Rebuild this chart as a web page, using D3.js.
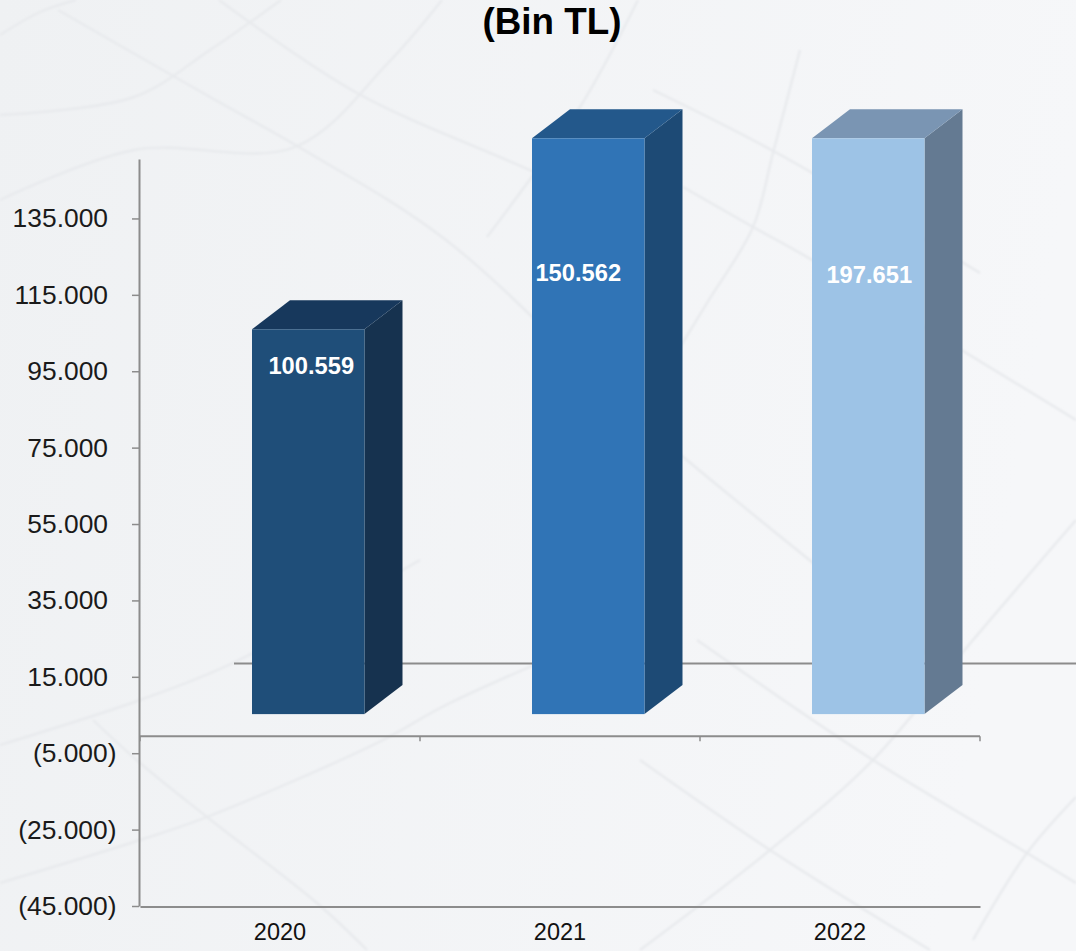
<!DOCTYPE html>
<html>
<head>
<meta charset="utf-8">
<title>Bin TL</title>
<script src="https://cdn.jsdelivr.net/npm/d3@7"></script>
<style>
    html, body { margin: 0; padding: 0; background: #f3f4f6; }
    svg { display: block; }
    text { font-family: "Liberation Sans", Arial, sans-serif; }
</style>
</head>
<body>
<div id="chart"></div>
<script>
//Data
const years = ['2020', '2021', '2022'];
const values = [100559, 150562, 197651];
const axisTicks = [135000, 115000, 95000, 75000, 55000, 35000, 15000, -5000, -25000, -45000];
const axisMin = -45000;
const axisMax = 150562;
const titleText = '(Bin TL)';

//Colors for each bar: front, side, top
const frontColors = ['#1f4e79', '#3074b6', '#9dc3e6'];
const sideColors = ['#16324f', '#1d4a75', '#647a92'];
const topColors = ['#17385c', '#23588b', '#7a95b3'];

//Label nudges, the labels are hand placed in the original
const labelDx = [3, -10, 1];
const labelDy = [36.5, 134, 136.5];

//Faint lines of the background picture
const bgStrokes = [
    [[0, 35], [40, 12], [76, 0]],
    [[0, 115], [134, 97], [210, 50], [281, 0]],
    [[0, 200], [134, 150], [295, 147], [388, 63], [442, 0]],
    [[487, 237], [580, 107], [638, 0]],
    [[58, 10], [210, 97], [304, 150], [446, 240], [640, 420], [760, 520], [960, 680]],
    [[219, 0], [357, 93], [536, 173], [653, 230]],
    [[653, 90], [777, 153], [980, 273]],
    [[683, 187], [753, 227], [807, 257], [1076, 420]],
    [[0, 745], [140, 700], [233, 663], [420, 560]],
    [[0, 883], [140, 840], [207, 817], [377, 743], [450, 703], [640, 620]],
    [[93, 720], [140, 763], [207, 817], [317, 903], [367, 950]],
    [[640, 760], [770, 850], [930, 950]],
    [[697, 640], [873, 760], [1027, 853], [1076, 883]],
    [[640, 950], [770, 850], [873, 760], [973, 640], [1076, 520]],
    [[973, 940], [1027, 853], [1076, 797]],
    [[800, 50], [773, 153], [753, 227], [707, 303], [660, 380]]
];

//Dimensions
const width = 1076;
const height = 951;
const axisColor = '#8c8c8c';

//Create core SVG
const svg = d3.select('#chart')
    .append('svg')
    .attr('width', width)
    .attr('height', height);

//Background
const defs = svg.append('defs');
const grad = defs.append('linearGradient')
    .attr('id', 'bg')
    .attr('x1', 0).attr('y1', 0).attr('x2', 1).attr('y2', 0.15);
grad.append('stop').attr('offset', '0%').attr('stop-color', '#eff1f3');
grad.append('stop').attr('offset', '100%').attr('stop-color', '#f6f7f9');
defs.append('filter')
    .attr('id', 'soft')
    .append('feGaussianBlur')
    .attr('stdDeviation', 0.8);
svg.append('rect')
    .attr('width', width)
    .attr('height', height)
    .attr('fill', 'url(#bg)');

const bgLine = d3.line().curve(d3.curveCatmullRom);
svg.append('g')
    .attr('filter', 'url(#soft)')
    .selectAll('path')
    .data(bgStrokes)
    .join('path')
    .attr('d', bgLine)
    .attr('fill', 'none')
    .attr('stroke', '#e8eaed')
    .attr('stroke-width', 2.4);

//Scales
const x = d3.scaleBand()
    .domain(years)
    .range([140, 980]);
//The last bar is taller than the axis, so it gets cut off at the top
const y = d3.scaleLinear()
    .domain([axisMin, axisMax])
    .range([906, 159])
    .clamp(true);

const trLocale = d3.formatLocale({
    decimal: ',',
    thousands: '.',
    grouping: [3],
    currency: ['', '₺']
});
const fmt = trLocale.format('(,.0f');

//Back floor line, sits behind the bars
svg.append('line')
    .attr('x1', 234)
    .attr('x2', width)
    .attr('y1', 663.5)
    .attr('y2', 663.5)
    .attr('stroke', axisColor)
    .attr('stroke-width', 2);

//Y Axis
const yAxis = svg.append('g')
    .attr('transform', 'translate(139,0)')
    .call(d3.axisLeft(y)
        .tickValues(axisTicks)
        .tickFormat(fmt)
        .tickSizeInner(7)
        .tickSizeOuter(0)
        .tickPadding(24));
yAxis.select('.domain')
    .attr('stroke', axisColor)
    .attr('stroke-width', 2);
yAxis.selectAll('.tick line')
    .attr('stroke', axisColor)
    .attr('stroke-width', 1.5);
yAxis.selectAll('.tick text')
    .attr('font-size', 26.4)
    .attr('font-family', '"Liberation Sans", Arial, sans-serif')
    .attr('fill', '#1a1a1a')
    //Positive values leave room for the closing bracket
    .attr('dx', d => d < 0 ? 8.5 : 0);

//X Axis at the bottom
const xAxis = svg.append('g')
    .attr('transform', 'translate(0,906.5)')
    .call(d3.axisBottom(x)
        .tickSize(0)
        .tickPadding(17));
xAxis.select('.domain')
    .attr('stroke', axisColor)
    .attr('stroke-width', 2);
xAxis.selectAll('.tick text')
    .attr('font-size', 23.5)
    .attr('font-family', '"Liberation Sans", Arial, sans-serif')
    .attr('fill', '#111');

//Zero line with ticks between the categories
const zeroY = y(0) + 2.2;
svg.append('line')
    .attr('x1', x.range()[0])
    .attr('x2', x.range()[1])
    .attr('y1', zeroY)
    .attr('y2', zeroY)
    .attr('stroke', axisColor)
    .attr('stroke-width', 2);
svg.append('g')
    .selectAll('line')
    .data(years.map(d => x(d)).concat(x.range()[1]))
    .join('line')
    .attr('x1', d => d)
    .attr('x2', d => d)
    .attr('y1', zeroY)
    .attr('y2', zeroY + 5)
    .attr('stroke', axisColor)
    .attr('stroke-width', 1.5);

/*#########
Draw Bars
#########*/
const barWidth = 112.5;
const barInset = 112;
const lift = 20;
const depthX = 38;
const depthY = 29;

const bars = svg.append('g')
    .selectAll('g')
    .data(years.map((d, i) => ({ year: d, value: values[i], i: i })))
    .join('g');

const barLeft = d => x(d.year) + barInset;
const barRight = d => barLeft(d) + barWidth;
const barTop = d => y(d.value) - lift - 0.7;
const barBottom = () => y(0) - lift;

//Side face
bars.append('path')
    .attr('fill', d => sideColors[d.i])
    .attr('d', d => d3.line()([
        [barRight(d), barTop(d)],
        [barRight(d) + depthX, barTop(d) - depthY],
        [barRight(d) + depthX, barBottom() - depthY],
        [barRight(d), barBottom()]
    ]) + 'Z');

//Top face
bars.append('path')
    .attr('fill', d => topColors[d.i])
    .attr('d', d => d3.line()([
        [barLeft(d), barTop(d)],
        [barLeft(d) + depthX, barTop(d) - depthY],
        [barRight(d) + depthX, barTop(d) - depthY],
        [barRight(d), barTop(d)]
    ]) + 'Z');

//Front face
bars.append('rect')
    .attr('fill', d => frontColors[d.i])
    .attr('x', barLeft)
    .attr('y', barTop)
    .attr('width', barWidth)
    .attr('height', d => barBottom() - barTop(d));

//Value labels
bars.append('text')
    .text(d => fmt(d.value))
    .attr('x', d => barLeft(d) + barWidth / 2 + labelDx[d.i])
    .attr('y', d => barTop(d) + labelDy[d.i])
    .attr('dy', '0.35em')
    .attr('text-anchor', 'middle')
    .attr('font-size', 23.7)
    .attr('font-weight', 'bold')
    .attr('fill', '#fff');

//Title
svg.append('text')
    .text(titleText)
    .attr('x', 552)
    .attr('y', 33.5)
    .attr('text-anchor', 'middle')
    .attr('font-size', 36.8)
    .attr('font-weight', 'bold')
    .attr('fill', '#000');
</script>
</body>
</html>
